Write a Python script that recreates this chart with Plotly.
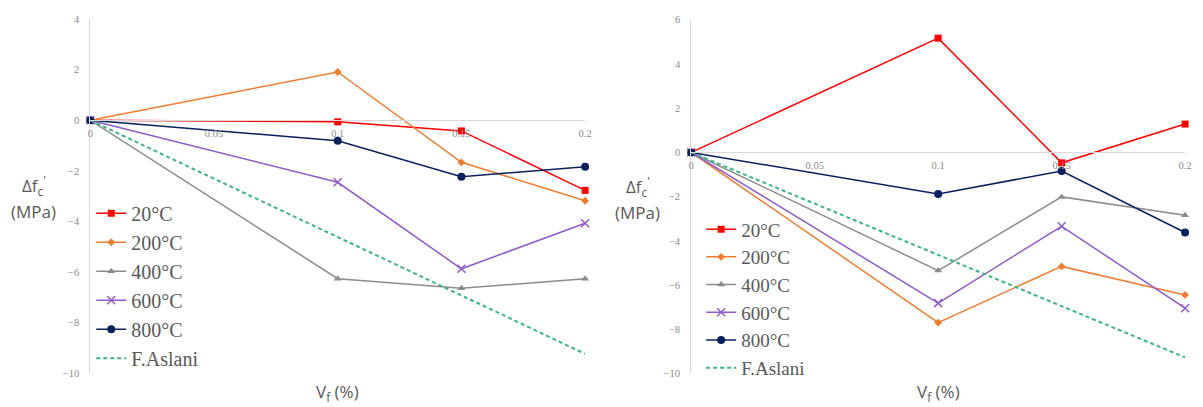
import plotly.graph_objects as go

W, H = 1203, 407

vf = [0, 0.1, 0.15, 0.2]
aslani_vf = [0, 0.05, 0.1, 0.15, 0.2]

series_names = ["20°C", "200°C", "400°C", "600°C", "800°C"]

# left panel
left_20 = [0, -0.06, -0.42, -2.77]
left_200 = [0, 1.91, -1.66, -3.18]
left_400 = [0, -6.26, -6.64, -6.26]
left_600 = [0, -2.45, -5.87, -4.07]
left_800 = [0, -0.81, -2.23, -1.84]
left_aslani = [0, -2.31, -4.61, -6.92, -9.23]

# right panel
right_20 = [0, 5.16, -0.47, 1.28]
right_200 = [0, -7.69, -5.15, -6.44]
right_400 = [0, -5.34, -2.01, -2.84]
right_600 = [0, -6.81, -3.34, -7.04]
right_800 = [0, -1.88, -0.84, -3.62]
right_aslani = [0, -2.31, -4.63, -6.94, -9.26]

x_ticks = [0, 0.05, 0.1, 0.15, 0.2]
x_tick_text = ["0", "0.05", "0.1", "0.15", "0.2"]
left_y_ticks = [4, 2, 0, -2, -4, -6, -8, -10]
right_y_ticks = [6, 4, 2, 0, -2, -4, -6, -8, -10]

styles = [
    dict(color="#FF0000", symbol="square", size=7),
    dict(color="#ED7D31", symbol="diamond", size=6),
    dict(color="#8C8C8C", symbol="triangle-up", size=7),
    dict(color="#8E5CC8", symbol="x-thin", size=8),
    dict(color="#0B1F5C", symbol="circle", size=8),
]
aslani_color = "#3DB389"

fig = go.Figure()

def add_panel(values, aslani, xa, ya, legend):
    for name, vals, st in zip(series_names, values, styles):
        marker = dict(symbol=st["symbol"], size=st["size"], color=st["color"])
        if st["symbol"] == "x-thin":
            marker["line"] = dict(color=st["color"], width=1.5)
        fig.add_trace(go.Scatter(
            x=vf, y=vals, name=name, mode="lines+markers",
            line=dict(color=st["color"], width=1.5), marker=marker,
            xaxis=xa, yaxis=ya, legend=legend, cliponaxis=False))
    fig.add_trace(go.Scatter(
        x=aslani_vf, y=aslani, name="F.Aslani", mode="lines",
        line=dict(color=aslani_color, width=2, dash="4px,3px"),
        xaxis=xa, yaxis=ya, legend=legend, cliponaxis=False))

add_panel([left_20, left_200, left_400, left_600, left_800], left_aslani, "x", "y", "legend")
add_panel([right_20, right_200, right_400, right_600, right_800], right_aslani, "x2", "y2", "legend2")

lx = [88 / W, 587 / W]
rx = [694 / W, 1192 / W]
ly = [1 - 378.5 / H, 1 - 14.5 / H]
ry = [1 - 379 / H, 1 - 15 / H]
lrange = [-10, 4]
rrange = [-10, 6]

def zero_pos(dom, rng):
    return dom[0] + (0 - rng[0]) / (rng[1] - rng[0]) * (dom[1] - dom[0])

tick_font = dict(family="Liberation Serif", size=10.5, color="#8a8a8a")
axis_line = "#d9d9d9"

common_x = dict(range=[0, 0.2], tickvals=x_ticks, ticktext=x_tick_text, showgrid=False,
                zeroline=False, showline=True, linecolor=axis_line, linewidth=1,
                ticks="", tickfont=tick_font, ticklabelstandoff=3, anchor="free")
common_y = dict(showgrid=False, zeroline=False, showline=True, linecolor=axis_line,
                linewidth=1, ticks="", tickfont=tick_font, ticklabelstandoff=8)

fig.update_layout(
    width=W, height=H,
    margin=dict(l=0, r=0, t=0, b=0),
    paper_bgcolor="white", plot_bgcolor="white",
    xaxis=dict(domain=lx, position=zero_pos(ly, lrange), **common_x),
    yaxis=dict(domain=ly, range=lrange, tickvals=left_y_ticks, anchor="x", **common_y),
    xaxis2=dict(domain=rx, position=zero_pos(ry, rrange), **common_x),
    yaxis2=dict(domain=ry, range=rrange, tickvals=right_y_ticks, anchor="x2", **common_y),
    legend=dict(x=89 / W, y=1 - 194 / H, xanchor="left", yanchor="top",
                font=dict(family="Liberation Serif", size=20, color="#595959"),
                bgcolor="rgba(0,0,0,0)", tracegroupgap=0),
    legend2=dict(x=704 / W, y=1 - 211 / H, xanchor="left", yanchor="top",
                 font=dict(family="Liberation Serif", size=19, color="#595959"),
                 bgcolor="rgba(0,0,0,0)", tracegroupgap=0),
    showlegend=True,
)

title_font = dict(family="Open Sans", size=17, color="#595959")
for cx, y1, y2 in [(31, 186, 212), (640, 187, 213)]:
    fig.add_annotation(x=cx / W, y=1 - y1 / H, xref="paper", yref="paper",
                       text="Δf<sub>c</sub><sup>'</sup>", showarrow=False,
                       font=title_font, xanchor="center", yanchor="middle")
    fig.add_annotation(x=cx / W, y=1 - y2 / H, xref="paper", yref="paper",
                       text="(MPa)", showarrow=False,
                       font=title_font, xanchor="center", yanchor="middle")

for xr in ["x domain", "x2 domain"]:
    fig.add_annotation(x=0.5, y=1 - 398 / H, xref=xr, yref="paper",
                       text="V<sub>f</sub> (%)", showarrow=False,
                       font=title_font, xanchor="center", yanchor="middle")

fig.write_html(
    "out.html",
    config={"displayModeBar": False},
    post_script="document.body.style.margin='0';document.body.style.overflow='hidden';",
)
